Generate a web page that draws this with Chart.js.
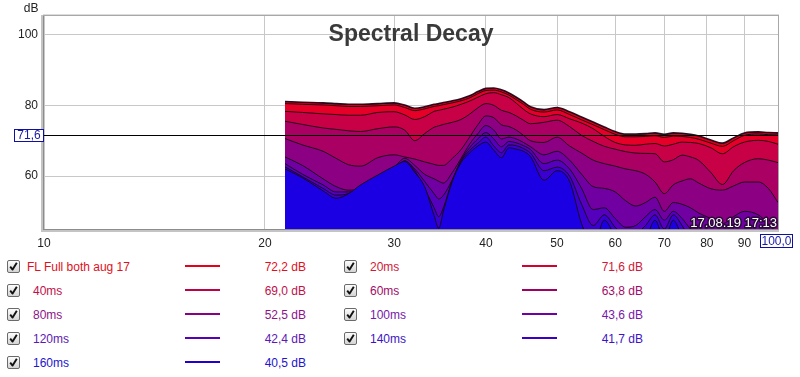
<!DOCTYPE html>
<html><head><meta charset="utf-8">
<script src="https://cdn.jsdelivr.net/npm/chart.js@4.4.0/dist/chart.umd.min.js"></script>
<style>
html,body{margin:0;padding:0;background:#fff;}
body{width:800px;height:377px;position:relative;overflow:hidden;font-family:'Liberation Sans',Arial,sans-serif;font-size:12px;}
#c{position:absolute;left:0;top:0;}
.cb{position:absolute;width:13px;height:13px;box-sizing:border-box;border:1px solid #6a6a6a;border-radius:2px;background:linear-gradient(#fdfdfd,#d4d4d4);}
.cb svg{position:absolute;left:0;top:0;}
.lab{position:absolute;white-space:nowrap;line-height:14px;}
.ln{position:absolute;height:2px;width:35px;}
.val{position:absolute;white-space:nowrap;text-align:right;line-height:14px;}
</style></head><body>
<canvas id="c" width="800" height="252"></canvas>
<div id="legend"></div>
<script>
// ---------- data ----------
const freqs = [21.3, 22.5, 24, 25, 26, 27, 28.5, 30, 31, 32, 33, 34, 34.5, 35, 36, 37, 38, 39, 40, 41, 42, 43, 44, 45, 46, 48, 50, 52, 54, 56, 58, 60, 62, 64, 66, 68, 70, 72, 74, 76, 78, 81, 84, 87, 90, 94, 97, 100];

const s0ms   = [81.1, 80.9, 80.7, 80.5, 80.3, 80.3, 80.5, 80.7, 80.1, 79.2, 79.6, 80.3, 80.5, 80.8, 81.3, 81.9, 82.7, 83.9, 84.8, 84.9, 84.4, 83.5, 82.3, 81.0, 79.6, 78.8, 79.4, 78.2, 76.7, 75.3, 73.9, 72.6, 71.9, 71.9, 72.0, 72.2, 71.8, 72.2, 72.1, 71.8, 71.3, 70.2, 69.3, 70.8, 72.2, 72.5, 72.3, 72.2];
const s20ms  = [80.5, 80.3, 80.1, 79.9, 79.7, 79.7, 79.9, 80.1, 79.4, 78.5, 79.0, 79.7, 79.9, 80.2, 80.7, 81.3, 82.1, 83.3, 84.2, 84.3, 83.8, 82.9, 81.6, 80.3, 78.9, 78.1, 78.7, 77.4, 75.9, 74.5, 73.1, 71.8, 71.1, 71.1, 71.2, 71.4, 70.9, 71.3, 71.2, 70.9, 70.4, 69.3, 68.4, 70.0, 71.5, 71.9, 71.7, 71.6];
const s40ms  = [78.3, 78.0, 77.6, 77.4, 77.2, 77.2, 78.0, 78.2, 77.3, 76.0, 76.8, 78.3, 78.6, 78.9, 79.5, 80.3, 81.2, 82.3, 83.3, 83.6, 83.0, 82.2, 80.6, 78.9, 77.6, 76.8, 77.4, 76.2, 75.0, 73.4, 71.2, 69.5, 68.8, 68.7, 69.0, 69.2, 68.5, 69.0, 69.6, 69.5, 69.2, 68.0, 66.3, 68.3, 69.6, 70.1, 69.8, 69.0];
const s60ms  = [75.5, 74.6, 73.6, 73.2, 72.8, 72.6, 73.4, 73.9, 73.0, 70.0, 72.0, 73.8, 74.2, 74.6, 75.2, 76.0, 77.5, 79.3, 80.5, 80.0, 78.6, 78.0, 77.0, 75.8, 74.8, 75.2, 75.8, 74.0, 71.5, 69.8, 68.4, 67.6, 66.9, 66.5, 66.4, 66.3, 64.0, 64.6, 65.9, 65.4, 64.4, 61.0, 57.6, 61.5, 63.8, 64.9, 64.5, 63.8];
const s80ms  = [70.6, 68.8, 67.0, 65.0, 63.2, 62.8, 65.2, 66.0, 65.4, 64.8, 64.0, 63.3, 63.0, 63.0, 65.0, 67.5, 71.0, 74.5, 77.0, 76.5, 74.5, 74.0, 73.0, 71.5, 70.0, 69.5, 71.0, 68.5, 66.5, 64.5, 63.5, 62.8, 62.0, 61.5, 60.5, 58.3, 55.0, 57.5, 58.6, 59.2, 58.0, 56.4, 56.0, 57.2, 58.3, 58.3, 56.5, 52.5];
const s100ms = [65.4, 63.0, 59.2, 57.0, 56.0, 56.4, 59.0, 62.5, 65.0, 63.0, 60.5, 59.2, 58.5, 58.0, 61.0, 65.0, 69.0, 72.0, 74.3, 73.0, 70.5, 71.0, 70.5, 69.5, 68.3, 66.0, 67.0, 64.5, 60.5, 57.0, 56.5, 55.5, 53.0, 51.5, 52.5, 54.0, 50.0, 52.5, 52.0, 51.0, 49.5, 48.0, 46.5, 48.5, 50.0, 49.0, 46.5, 43.6];
const s120ms = [63.5, 60.5, 57.5, 55.5, 55.5, 56.0, 58.0, 61.5, 64.3, 62.0, 58.5, 55.0, 53.5, 54.5, 59.0, 64.5, 68.0, 70.5, 72.3, 70.5, 68.3, 69.8, 69.4, 68.6, 67.5, 63.5, 64.5, 62.0, 56.5, 50.5, 51.0, 48.0, 45.5, 46.0, 48.5, 50.5, 47.5, 50.0, 48.0, 45.0, 43.0, 42.5, 42.0, 42.0, 42.4, 42.5, 42.4, 42.4];
const s140ms = [62.6, 59.8, 56.5, 54.6, 55.0, 56.5, 58.5, 62.0, 64.2, 61.5, 56.5, 51.0, 48.5, 51.0, 58.8, 64.2, 67.2, 69.3, 71.0, 68.5, 66.6, 68.8, 68.6, 67.8, 66.5, 61.5, 62.5, 60.0, 52.0, 46.0, 49.0, 45.5, 43.0, 43.5, 46.0, 49.0, 45.0, 49.0, 46.0, 42.0, 41.0, 41.0, 41.0, 41.0, 41.0, 41.5, 41.7, 41.7];
const s160ms = [62.0, 59.5, 55.8, 53.7, 55.0, 57.5, 60.3, 62.8, 64.1, 61.0, 57.0, 48.8, 45.2, 50.0, 58.5, 63.8, 66.5, 68.5, 69.6, 67.3, 65.2, 68.0, 67.6, 67.0, 65.5, 58.8, 61.5, 58.5, 46.5, 40.0, 47.5, 43.0, 40.0, 40.0, 42.0, 47.5, 42.0, 47.5, 43.0, 40.0, 40.0, 40.0, 40.0, 40.0, 40.0, 40.0, 40.5, 40.5];

const seriesNames  = ['FL Full both aug 17', '20ms', '40ms', '60ms', '80ms', '100ms', '120ms', '140ms', '160ms'];
const legendValues = ['72,2 dB', '71,6 dB', '69,0 dB', '63,8 dB', '52,5 dB', '43,6 dB', '42,4 dB', '41,7 dB', '40,5 dB'];
const xTicks = [10, 20, 30, 40, 50, 60, 70, 80, 90, 100];
const yTicks = [60, 80, 100];
const cursorValue = 71.6;
const cursorLabel = '71,6';
const cursorFreqLabel = '100,0';
const titleText = 'Spectral Decay';
const stampText = '17.08.19 17:13';
const yUnit = 'dB';

// ---------- styles ----------
const seriesData = [s0ms, s20ms, s40ms, s60ms, s80ms, s100ms, s120ms, s140ms, s160ms];
const fillColors = ['rgb(215,0,25)', 'rgb(230,0,40)', 'rgb(200,0,70)', 'rgb(170,0,100)', 'rgb(140,0,132)', 'rgb(112,0,162)', 'rgb(84,0,188)', 'rgb(58,0,208)', 'rgb(28,0,228)'];
const legendColors = ['#e0101c', '#d01838', '#c01048', '#a00c68', '#8c1488', '#7818a8', '#5c18b4', '#3c14c4', '#2414d0'];
const lineColors = ['#e6001a', '#d4002e', '#c00044', '#a00064', '#8a0084', '#7000a4', '#5800b4', '#3c00c4', '#2000d0'];

const FONT = "'Liberation Sans', Arial, sans-serif";
Chart.defaults.font.family = FONT;
Chart.defaults.font.size = 12;
Chart.defaults.color = '#222';

const datasets = seriesData.map((arr, i) => ({
  label: seriesNames[i],
  data: freqs.map((f, k) => ({x: f, y: arr[k]})),
  backgroundColor: fillColors[i],
  borderColor: 'rgba(25,0,20,0.92)',
  borderWidth: i === 0 ? 1.6 : 1,
  fill: 'start',
  pointRadius: 0,
  tension: 0.4,
  cubicInterpolationMode: 'monotone',
  order: seriesData.length - 1 - i
}));

const overlay = {
  id: 'overlay',
  afterDatasetsDraw(chart) {
    const {ctx, chartArea: a, scales: {y}} = chart;
    ctx.save();
    // cursor line
    const cy = Math.round(y.getPixelForValue(cursorValue)) + 0.5;
    ctx.strokeStyle = '#000'; ctx.lineWidth = 1;
    ctx.beginPath(); ctx.moveTo(a.left, cy); ctx.lineTo(a.right, cy); ctx.stroke();
    // timestamp
    ctx.font = '13px ' + FONT;
    ctx.textAlign = 'right'; ctx.textBaseline = 'alphabetic';
    ctx.lineJoin = 'round'; ctx.lineWidth = 3; ctx.strokeStyle = '#2a0838';
    ctx.strokeText(stampText, a.right - 1, a.bottom - 2);
    ctx.fillStyle = '#fff'; ctx.fillText(stampText, a.right - 1, a.bottom - 2);
    // title
    ctx.font = 'bold 23px ' + FONT;
    ctx.fillStyle = '#3a3a3a'; ctx.textAlign = 'center';
    ctx.fillText(titleText, 411, 41);
    // frame
    ctx.fillStyle = '#c4c4c4';
    ctx.fillRect(a.left - 3, a.top - 1, 3, a.bottom - a.top + 4);
    ctx.fillRect(a.left - 3, a.bottom, a.right - a.left + 4, 3);
    ctx.fillStyle = '#8c8c8c';
    ctx.fillRect(a.left - 1, a.top - 1, 1, a.bottom - a.top + 2);
    ctx.fillRect(a.left - 1, a.bottom, a.right - a.left + 2, 1);
    ctx.fillStyle = '#a8a8a8';
    ctx.fillRect(a.left - 1, a.top - 1, a.right - a.left + 2, 1);
    ctx.fillRect(a.right, a.top - 1, 1, a.bottom - a.top + 2);
    ctx.fillStyle = '#dcdcdc';
    ctx.fillRect(a.left - 1, a.top - 2, a.right - a.left + 2, 1);
    ctx.restore();
  },
  afterDraw(chart) {
    const {ctx, chartArea: a, scales: {x, y}} = chart;
    ctx.save();
    // unit
    ctx.font = '12px ' + FONT; ctx.fillStyle = '#222';
    ctx.textAlign = 'right'; ctx.textBaseline = 'alphabetic';
    ctx.fillText(yUnit, 38.5, 12);
    // cursor value box
    const cy = Math.round(y.getPixelForValue(cursorValue));
    ctx.fillStyle = '#fff'; ctx.fillRect(14, cy - 6, 30, 13);
    ctx.strokeStyle = '#1010a0'; ctx.lineWidth = 1;
    ctx.strokeRect(14.5, cy - 5.5, 29, 12);
    ctx.fillStyle = '#1a1aa8'; ctx.textAlign = 'center'; ctx.textBaseline = 'middle';
    ctx.fillText(cursorLabel, 29, cy + 1);
    // cursor freq box
    const cx = x.getPixelForValue(100);
    ctx.fillStyle = '#fff'; ctx.fillRect(cx - 18, 234, 33, 14);
    ctx.strokeRect(Math.round(cx - 18) + 0.5, 234.5, 32, 13);
    ctx.fillStyle = '#1a1aa8';
    ctx.fillText(cursorFreqLabel, cx - 1.5, 241.5);
    ctx.restore();
  }
};

new Chart(document.getElementById('c'), {
  type: 'line',
  data: {datasets},
  options: {
    responsive: false,
    animation: false,
    layout: {autoPadding: false, padding: {top: 16, right: 22, left: 0, bottom: 0}},
    plugins: {legend: {display: false}, tooltip: {enabled: false}, title: {display: false}},
    scales: {
      x: {
        type: 'logarithmic', min: 10, max: 100,
        afterBuildTicks: s => { s.ticks = xTicks.map(v => ({value: v})); },
        afterFit: s => { s.height = 23; },
        grid: {color: '#c8c8c8', drawTicks: false},
        border: {display: false},
        ticks: {autoSkip: false, maxRotation: 0, padding: 7, color: '#222',
          callback: v => (v === 100 ? '' : String(v))}
      },
      y: {
        type: 'linear', min: 45, max: 105.3,
        afterBuildTicks: s => { s.ticks = yTicks.map(v => ({value: v})); },
        afterFit: s => { s.width = 44; },
        grid: {color: '#c8c8c8', drawTicks: false},
        border: {display: false},
        ticks: {padding: 6, color: '#222', callback: v => String(v)}
      }
    }
  },
  plugins: [overlay]
});

// ---------- legend ----------
const leg = document.getElementById('legend');
const check = '<svg width="11" height="11" viewBox="0 0 11 11"><path d="M2.2 5.6 L4.6 8.6 L8.8 1.8" stroke="#111" stroke-width="1.9" fill="none" stroke-linejoin="round"/></svg>';
const leftIdx = [0, 2, 4, 6, 8], rightIdx = [1, 3, 5, 7];
function addItem(i, row, col) {
  const top = 260 + row * 24;
  const c = col === 0 ? {cb: 7, lab: (i === 0 ? 27 : 33), ln: 185, valR: 494} : {cb: 344, lab: 370, ln: 522, valR: 157};
  const col_ = legendColors[i];
  leg.insertAdjacentHTML('beforeend',
    `<div class="cb" style="left:${c.cb}px;top:${top}px">${check}</div>` +
    `<div class="lab" style="left:${c.lab}px;top:${top}px;color:${col_}">${seriesNames[i]}</div>` +
    `<div class="ln" style="left:${c.ln}px;top:${top + 5}px;background:${lineColors[i]}"></div>` +
    `<div class="val" style="right:${c.valR}px;top:${top}px;color:${col_}">${legendValues[i]}</div>`);
}
leftIdx.forEach((i, r) => addItem(i, r, 0));
rightIdx.forEach((i, r) => addItem(i, r, 1));
</script>
</body></html>
